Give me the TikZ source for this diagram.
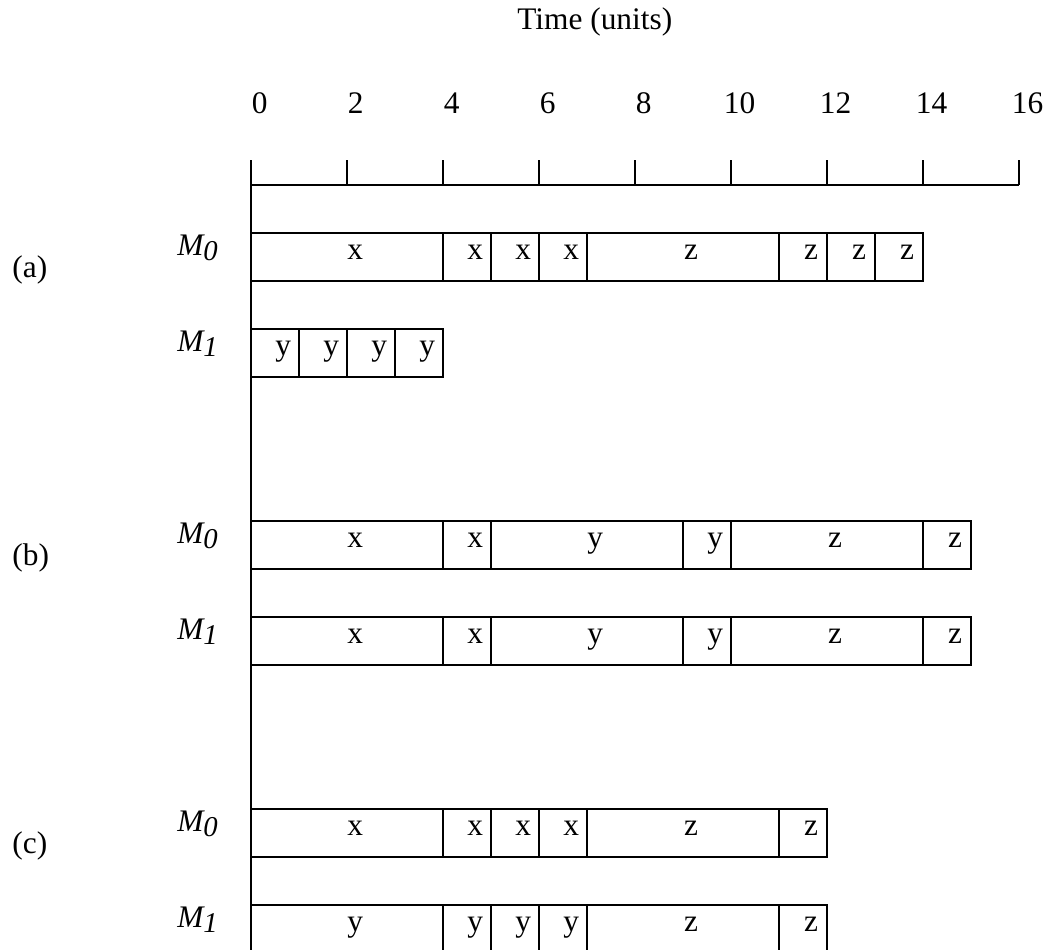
\documentclass[tikz,border=0pt]{standalone}
\usepackage{fontspec}
\setmainfont{Liberation Serif}
\usetikzlibrary{positioning}

\begin{document}
\begin{tikzpicture}[x=0.5cm,y=0.5cm,
    every node/.style={font=\fontsize{9.3}{11}\selectfont, inner sep=0pt},
    slot/.style={draw, line width=0.5pt},
    job/.style={anchor=base},
    mach/.style={anchor=base west, font=\fontsize{9.3}{11}\selectfont\itshape},
    case/.style={anchor=base west}]
    \useasboundingbox (-5.229,3.854) rectangle (16.875,-15.917);
    \clip (-5.229,3.854) rectangle (16.875,-15.917);

    % Draw time axis
    \node[anchor=base west] (title) at (5.535,3.23) {Time (units)};
    \draw[line width=0.5pt] (0,0) -- (16,0);
    \foreach \t in {0,2,...,16} {
        \draw[line width=0.5pt] (\t,0) -- (\t,0.52);
        \node[anchor=base] (tick\t) at (\t+0.18,1.49) {\t};
    }
    \draw[line width=0.5pt] (0,0.52) -- (0,-16);

    % Draw case labels
    \node[case] (caseA) at (-4.985,-1.917) {(a)};
    \node[case] (caseB) at (-4.985,-7.917) {(b)};
    \node[case] (caseC) at (-4.985,-13.917) {(c)};

    % Draw machine labels
    \foreach \r/\y/\m in {a0/-1/0, a1/-3/1, b0/-7/0, b1/-9/1, c0/-13/0, c1/-15/1} {
        \node[mach] (mach\r) at (-1.55,\y-0.46) {M\raisebox{-0.35ex}{\fontsize{8.5}{10}\selectfont\m}};
    }

    % Draw schedule (a)
    \foreach \s/\e/\l [count=\i] in {0/4/x, 4/5/x, 5/6/x, 6/7/x, 7/11/z, 11/12/z, 12/13/z, 13/14/z} {
        \draw[slot] (\s,-1) rectangle (\e,-2);
        \node[job] (jobA0\i) at ({(\s+\e)/2+0.17},-1.55) {\l};
    }
    \foreach \s/\e/\l [count=\i] in {0/1/y, 1/2/y, 2/3/y, 3/4/y} {
        \draw[slot] (\s,-3) rectangle (\e,-4);
        \node[job] (jobA1\i) at ({(\s+\e)/2+0.17},-3.55) {\l};
    }

    % Draw schedule (b)
    \foreach \y/\r in {-7/B0, -9/B1} {
        \foreach \s/\e/\l [count=\i] in {0/4/x, 4/5/x, 5/9/y, 9/10/y, 10/14/z, 14/15/z} {
            \draw[slot] (\s,\y) rectangle (\e,\y-1);
            \node[job] (job\r\i) at ({(\s+\e)/2+0.17},\y-0.55) {\l};
        }
    }

    % Draw schedule (c)
    \foreach \s/\e/\l [count=\i] in {0/4/x, 4/5/x, 5/6/x, 6/7/x, 7/11/z, 11/12/z} {
        \draw[slot] (\s,-13) rectangle (\e,-14);
        \node[job] (jobC0\i) at ({(\s+\e)/2+0.17},-13.55) {\l};
    }
    \foreach \s/\e/\l [count=\i] in {0/4/y, 4/5/y, 5/6/y, 6/7/y, 7/11/z, 11/12/z} {
        \draw[slot] (\s,-15) rectangle (\e,-16);
        \node[job] (jobC1\i) at ({(\s+\e)/2+0.17},-15.55) {\l};
    }
\end{tikzpicture}
\end{document}
